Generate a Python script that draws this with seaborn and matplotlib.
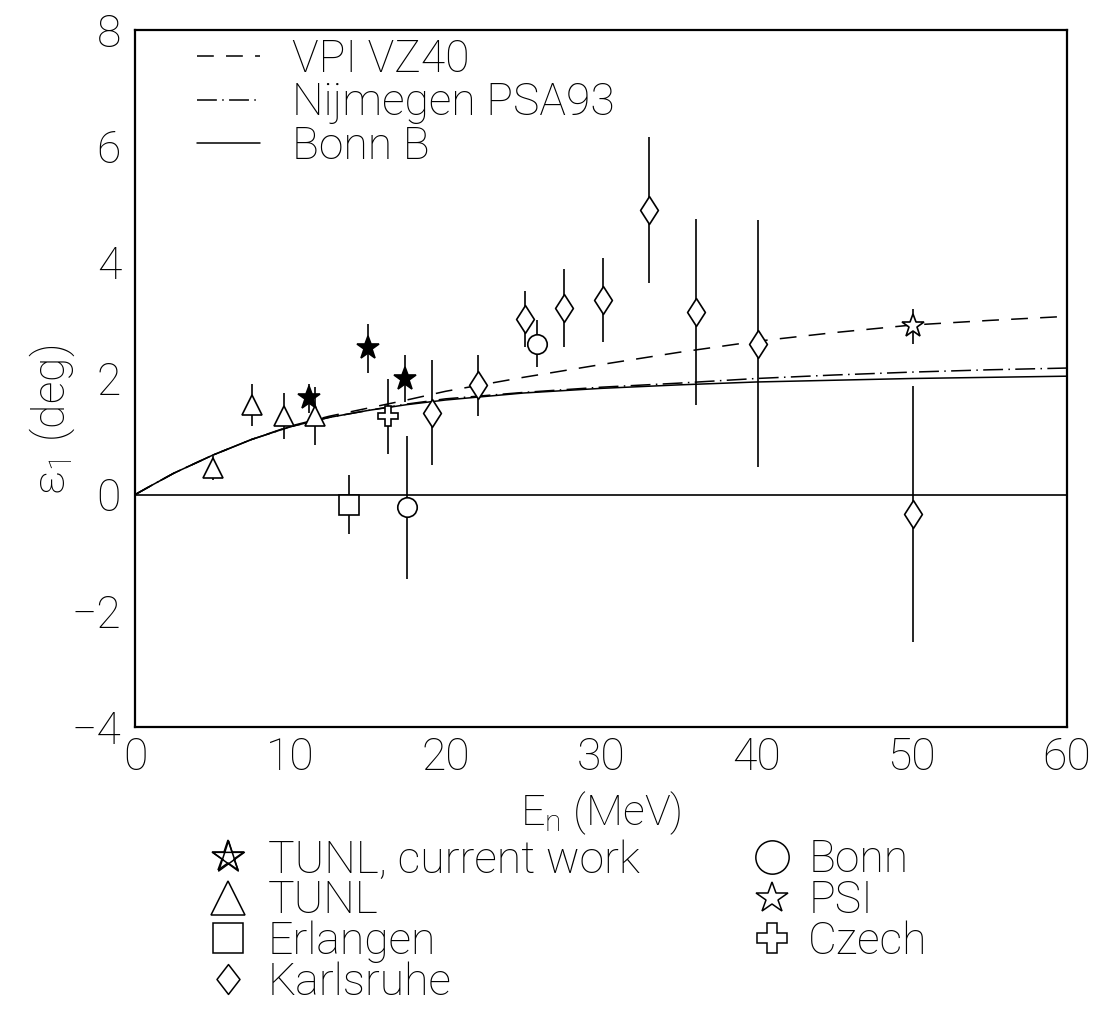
import numpy as np
import matplotlib
matplotlib.use('Agg')
import matplotlib.pyplot as plt
import seaborn as sns
from matplotlib.lines import Line2D
from matplotlib.path import Path
from matplotlib.legend_handler import HandlerTuple

# theory curves
energy_curve = [0, 1, 2.5, 5, 7.5, 10, 12.5, 15, 17.5, 20, 25, 30, 35, 40, 45, 50, 55, 60]
vpi_vz40 = [0, 0.15, 0.37, 0.68, 0.95, 1.18, 1.35, 1.49, 1.63, 1.78, 2.02, 2.24, 2.45, 2.64, 2.79, 2.92, 3.0, 3.07]
nijmegen_psa93 = [0, 0.15, 0.37, 0.68, 0.95, 1.17, 1.33, 1.45, 1.56, 1.65, 1.76, 1.85, 1.92, 2.0, 2.06, 2.11, 2.15, 2.18]
bonn_b = [0, 0.15, 0.37, 0.68, 0.95, 1.17, 1.33, 1.45, 1.55, 1.63, 1.75, 1.83, 1.89, 1.94, 1.97, 2.0, 2.02, 2.04]

# data sets
tunl_cur_e = [11.2, 15.0, 17.4]
tunl_cur_v = [1.66, 2.52, 2.0]
tunl_cur_err = [0.25, 0.42, 0.4]

tunl_e = [5.0, 7.5, 9.6, 11.6]
tunl_v = [0.46, 1.55, 1.35, 1.35]
tunl_err = [0.2, 0.36, 0.4, 0.5]

erlangen_e = [13.8]
erlangen_v = [-0.17]
erlangen_err = [0.5]

karlsruhe_e = [19.1, 22.1, 25.1, 27.6, 30.1, 33.1, 36.1, 40.1, 50.1]
karlsruhe_v = [1.41, 1.88, 3.02, 3.22, 3.35, 4.9, 3.14, 2.6, -0.33]
karlsruhe_err = [0.9, 0.53, 0.48, 0.67, 0.73, 1.25, 1.6, 2.13, 2.2]

bonn_e = [17.5, 25.9]
bonn_v = [-0.22, 2.6]
bonn_err = [1.23, 0.4]

psi_e = [50.1]
psi_v = [2.9]
psi_err = [0.3]

czech_e = [16.3]
czech_v = [1.35]
czech_err = [0.65]

sns.set_style('white')
plt.rcParams['font.family'] = ['Roboto', 'DejaVu Sans']
plt.rcParams['font.weight'] = 'light'
plt.rcParams['axes.labelweight'] = 'light'
plt.rcParams['mathtext.fontset'] = 'custom'
plt.rcParams['mathtext.rm'] = 'Roboto:light'
plt.rcParams['mathtext.it'] = 'Roboto:light'
for k in ['text.color', 'axes.labelcolor', 'xtick.color', 'ytick.color', 'axes.edgecolor']:
    plt.rcParams[k] = 'black'
FS = 32


def diamond(ratio):
    return Path([(0, 1), (ratio, 0), (0, -1), (-ratio, 0), (0, 1)], closed=True)


fig = plt.figure(figsize=(11.02, 10.10), dpi=100)
ax = fig.add_axes([135 / 1102, 1 - 727 / 1010, 932 / 1102, 697 / 1010])

ax.axhline(0, color='black', lw=1.2, zorder=1)

sns.lineplot(x=energy_curve, y=vpi_vz40, ax=ax, color='black', lw=1.1, label='VPI VZ40')
ax.lines[-1].set_dashes((11, 8))
sns.lineplot(x=energy_curve, y=nijmegen_psa93, ax=ax, color='black', lw=1.1, label='Nijmegen PSA93')
ax.lines[-1].set_dashes((13, 3.5, 1, 3.5))
sns.lineplot(x=energy_curve, y=bonn_b, ax=ax, color='black', lw=1.1, label='Bonn B')

sets = [
    (tunl_cur_e, tunl_cur_v, tunl_cur_err, '*', 17, 'black'),
    (tunl_e, tunl_v, tunl_err, '^', 14, 'white'),
    (erlangen_e, erlangen_v, erlangen_err, 's', 14, 'white'),
    (karlsruhe_e, karlsruhe_v, karlsruhe_err, diamond(0.64), 20, 'white'),
    (bonn_e, bonn_v, bonn_err, 'o', 14, 'white'),
    (psi_e, psi_v, psi_err, '*', 17, 'white'),
    (czech_e, czech_v, czech_err, 'P', 15, 'white'),
]
for e, v, err, m, ms, fc in sets:
    ax.errorbar(e, v, yerr=err, fmt='none', ecolor='black', elinewidth=1.2, capsize=0, zorder=2)
    ax.plot(e, v, ls='none', marker=m, ms=ms, mfc=fc, mec='black', mew=1.2, zorder=3)

ax.set_xlim(0, 60)
ax.set_ylim(-4, 8)
ax.set_xticks(np.arange(0, 61, 10))
ax.set_xticks(np.arange(0, 61, 5), minor=True)
ax.set_yticks(np.arange(-4, 9, 2))
ax.set_yticks(np.arange(-4, 9, 1), minor=True)
ax.tick_params(which='both', direction='in', top=False, right=False, labelsize=FS, width=1.2)
ax.tick_params(axis='y', which='major', length=17, pad=10)
ax.tick_params(axis='y', which='minor', length=8)
ax.tick_params(axis='x', which='major', length=17, pad=7)
ax.tick_params(axis='x', which='minor', length=9)
for s in ax.spines.values():
    s.set_linewidth(1.6)

ax.set_xlabel('E$_\\mathregular{n}$ (MeV)', fontsize=31, fontweight='light')
ax.set_ylabel('ε$_\\mathregular{1}$ (deg)', fontsize=FS, fontweight='light')
ax.xaxis.set_label_coords(0.5, -0.09)
ax.yaxis.set_label_coords(-0.062, 0.44)

ax.legend(loc='upper left', bbox_to_anchor=(0.0665, 0.988), frameon=False, fontsize=FS,
          handlelength=1.42, handletextpad=0.72, labelspacing=0.02, borderpad=0, borderaxespad=0)

# bottom legend
ang = np.deg2rad(90 + 144 * np.arange(6))
pentagram = Path(np.column_stack([np.cos(ang), np.sin(ang)]))
mk = dict(ls='none', mfc='none', mec='black', mew=1.1)
h_star_out = Line2D([], [], marker='*', ms=24, **mk)
h_star_in = Line2D([], [], marker=pentagram, ms=24, **mk)
h_tri = Line2D([], [], marker='^', ms=24, **mk)
h_sq = Line2D([], [], marker='s', ms=21.5, **mk)
h_dia = Line2D([], [], marker=diamond(0.77), ms=21.5, **mk)
h_circ = Line2D([], [], marker='o', ms=24, **mk)
h_psi = Line2D([], [], marker='*', ms=23.5, **mk)
h_cz = Line2D([], [], marker='P', ms=22, **mk)

fig.legend(handles=[(h_star_out, h_star_in), h_tri, h_sq, h_dia],
           labels=['TUNL, current work', 'TUNL', 'Erlangen', 'Karlsruhe'],
           handler_map={tuple: HandlerTuple(ndivide=1, pad=0)},
           loc='upper left', bbox_to_anchor=(210 / 1102, 1 - 839 / 1010), frameon=False, fontsize=FS,
           handlelength=0.8, handletextpad=0.5, labelspacing=-0.04, borderpad=0, borderaxespad=0)
fig.legend(handles=[h_circ, h_psi, h_cz], labels=['Bonn', 'PSI', 'Czech'],
           loc='upper left', bbox_to_anchor=(754 / 1102, 1 - 839 / 1010), frameon=False, fontsize=FS,
           handlelength=0.8, handletextpad=0.42, labelspacing=-0.04, borderpad=0, borderaxespad=0)

fig.savefig('out.png', dpi=100, facecolor='white')
